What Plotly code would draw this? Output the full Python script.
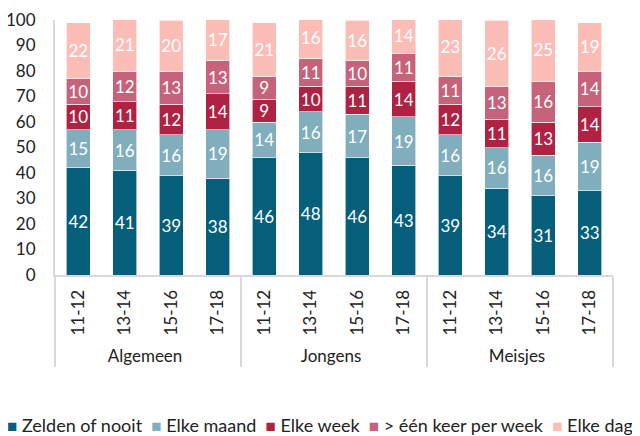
import plotly.graph_objects as go

groups = ["Algemeen"] * 4 + ["Jongens"] * 4 + ["Meisjes"] * 4
ages = ["11-12", "13-14", "15-16", "17-18"] * 3

series_names = ["Zelden of nooit", "Elke maand", "Elke week", "> één keer per week", "Elke dag"]
zelden = [42, 41, 39, 38, 46, 48, 46, 43, 39, 34, 31, 33]
maand = [15, 16, 16, 19, 14, 16, 17, 19, 16, 16, 16, 19]
week = [10, 11, 12, 14, 9, 10, 11, 14, 12, 11, 13, 14]
meer_week = [10, 12, 13, 13, 9, 11, 10, 11, 11, 13, 16, 14]
dag = [22, 21, 20, 17, 21, 16, 16, 14, 23, 26, 25, 19]

series_values = [zelden, maand, week, meer_week, dag]
colors = ["#055F7A", "#80AEBC", "#AF2244", "#C66279", "#FCBDB7"]

FONT = "Lato"
W, H = 640, 436
OFF = 8  # page body margin of the browser
ML, MR, MT, MB = 55 - OFF, 27 + OFF, 20 - OFF, 161 + OFF

fig = go.Figure()
for name, vals, col in zip(series_names, series_values, colors):
    fig.add_trace(go.Bar(
        x=[groups, ages], y=vals, name=name,
        marker=dict(color=col, line=dict(color="rgba(255,255,255,0.6)", width=1)),
        text=[str(v) for v in vals], textposition="inside", insidetextanchor="middle",
        textangle=0,
        textfont=dict(color="white", size=17, family=FONT),
        constraintext="none",
    ))

# legend drawn as one line of text with coloured square glyphs
legend_parts = [
    f"<span style='color:{col};font-size:17px'>■</span>&nbsp;{name}"
    for name, col in zip(series_names, colors)
]
plot_w = W - ML - MR
plot_h = H - MT - MB
fig.add_annotation(
    text="&nbsp;&nbsp;".join(legend_parts),
    xref="paper", yref="paper",
    x=(W / 2 - OFF - ML) / plot_w, y=((H - MB) - (425 - OFF)) / plot_h,
    xanchor="center", yanchor="middle",
    showarrow=False, font=dict(size=18, family=FONT, color="#222"),
)

fig.update_layout(
    barmode="stack",
    bargap=0.48,
    width=W, height=H,
    margin=dict(l=ML, r=MR, t=MT, b=MB),
    plot_bgcolor="white", paper_bgcolor="white",
    font=dict(family=FONT, size=17, color="#222"),
    showlegend=False,
)

fig.update_yaxes(range=[0, 100], dtick=10, showgrid=False, zeroline=False,
                 showline=True, linecolor="#D9D9D9", linewidth=2,
                 ticks="", ticklabelstandoff=14, automargin=False,
                 tickfont=dict(size=17, family=FONT, color="#222"))
fig.update_xaxes(showline=True, linecolor="#D9D9D9", linewidth=2,
                 showdividers=True, dividercolor="#D9D9D9", dividerwidth=2,
                 tickangle=-90, ticks="", automargin=False, ticklabelstandoff=6,
                 tickfont=dict(size=17, family=FONT, color="#222"))

fig.write_html("out.html")
